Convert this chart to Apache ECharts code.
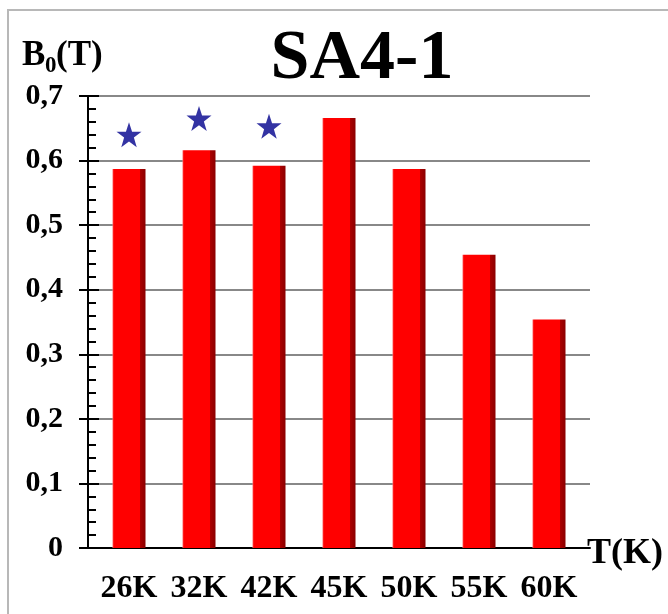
<!DOCTYPE html>
<html>
<head>
<meta charset="utf-8">
<script src="https://cdn.jsdelivr.net/npm/echarts@6/dist/echarts.min.js"></script>
<style>
  html, body { margin: 0; padding: 0; background: #fff; }
  #chart { width: 668px; height: 614px; }
</style>
</head>
<body>
<div id="chart"></div>
<script>
// temperatures on the x axis
var temps = ['26K', '32K', '42K', '45K', '50K', '55K', '60K']
// B0 values (T)
var b0Values = [0.587, 0.616, 0.592, 0.666, 0.587, 0.454, 0.354]
// star markers above the first three bars
var starValues = [0.640, 0.665, 0.653, null, null, null, null]
// y axis range
var yMin = 0
var yMax = 0.7
var yStep = 0.1

var serif = '"Liberation Serif", "Times New Roman", serif'
var starPath = 'path://M12,0.5 L14.9,8.9 L23.8,8.9 L16.6,14.2 L19.3,22.8 L12,17.6 L4.7,22.8 L7.4,14.2 L0.2,8.9 L9.1,8.9 Z'

var chart = echarts.init(document.getElementById('chart'))

chart.setOption({
  backgroundColor: '#ffffff',
  animation: false,
  grid: [
    { left: 88, right: 78, top: 96, bottom: 66 },
    { left: 94, right: 84, top: 96, bottom: 66 }
  ],
  xAxis: [
    {
      gridIndex: 0,
      type: 'category',
      data: temps,
      axisLine: { lineStyle: { color: '#000', width: 2 } },
      axisTick: { show: false },
      axisLabel: { show: false }
    },
    {
      gridIndex: 1,
      type: 'category',
      data: temps,
      axisLine: { show: false },
      axisTick: { show: false },
      axisLabel: {
        interval: 0,
        margin: 25,
        color: '#000',
        fontFamily: serif,
        fontWeight: 'bold',
        fontSize: 32
      }
    }
  ],
  yAxis: [
    {
      gridIndex: 0,
      type: 'value',
      position: 'left',
      min: yMin,
      max: yMax,
      interval: yStep,
      axisLine: { show: true, lineStyle: { color: '#000', width: 2 } },
      axisTick: { show: true, inside: true, length: 11, lineStyle: { color: '#000', width: 2 } },
      minorTick: { show: true, splitNumber: 5, length: 8, lineStyle: { color: '#000', width: 2 } },
      splitLine: { show: true, lineStyle: { color: '#888888', width: 2 } },
      axisLabel: { show: false }
    },
    {
      gridIndex: 0,
      type: 'value',
      position: 'left',
      min: yMin,
      max: yMax,
      interval: yStep,
      axisLine: { show: false },
      axisTick: { show: true, inside: false, length: 9, lineStyle: { color: '#000', width: 2 } },
      splitLine: { show: false },
      axisLabel: {
        margin: 25,
        color: '#000',
        fontFamily: serif,
        fontWeight: 'bold',
        fontSize: 30,
        formatter: function (v) {
          return v === 0 ? '0' : v.toFixed(1).replace('.', ',')
        }
      }
    },
    {
      gridIndex: 1,
      type: 'value',
      min: yMin,
      max: yMax,
      interval: yStep,
      show: false
    }
  ],
  series: [
    {
      name: 'B0',
      type: 'bar',
      xAxisIndex: 1,
      yAxisIndex: 2,
      data: b0Values,
      barWidth: 33,
      itemStyle: {
        color: {
          type: 'linear', x: 0, y: 0, x2: 1, y2: 0,
          colorStops: [
            { offset: 0, color: '#ff7070' },
            { offset: 0.04, color: '#ff0000' },
            { offset: 0.82, color: '#ff0000' },
            { offset: 0.82, color: '#b00000' },
            { offset: 1, color: '#8a0000' }
          ]
        }
      }
    },
    {
      name: 'star',
      type: 'scatter',
      xAxisIndex: 1,
      yAxisIndex: 2,
      data: starValues,
      symbol: starPath,
      symbolSize: 25,
      itemStyle: { color: '#00008c' }
    }
  ],
  graphic: [
    {
      type: 'rect',
      silent: true,
      shape: { x: 8, y: 10, width: 700, height: 700 },
      style: { fill: 'none', stroke: '#b8b8b8', lineWidth: 2 }
    },
    {
      type: 'text',
      x: 362, y: 60,
      style: {
        text: 'SA4-1',
        fill: '#000',
        font: 'bold 70px ' + serif,
        align: 'center',
        verticalAlign: 'middle'
      }
    },
    {
      type: 'text',
      x: 22, y: 56,
      style: { text: 'B', fill: '#000', font: 'bold 35px ' + serif, align: 'left', verticalAlign: 'middle' }
    },
    {
      type: 'text',
      x: 45, y: 66,
      style: { text: '0', fill: '#000', font: 'bold 23px ' + serif, align: 'left', verticalAlign: 'middle' }
    },
    {
      type: 'text',
      x: 56, y: 56,
      style: { text: '(T)', fill: '#000', font: 'bold 35px ' + serif, align: 'left', verticalAlign: 'middle' }
    },
    {
      type: 'text',
      x: 587, y: 554,
      style: { text: 'T(K)', fill: '#000', font: 'bold 36px ' + serif, align: 'left', verticalAlign: 'middle' }
    }
  ]
})
</script>
</body>
</html>
